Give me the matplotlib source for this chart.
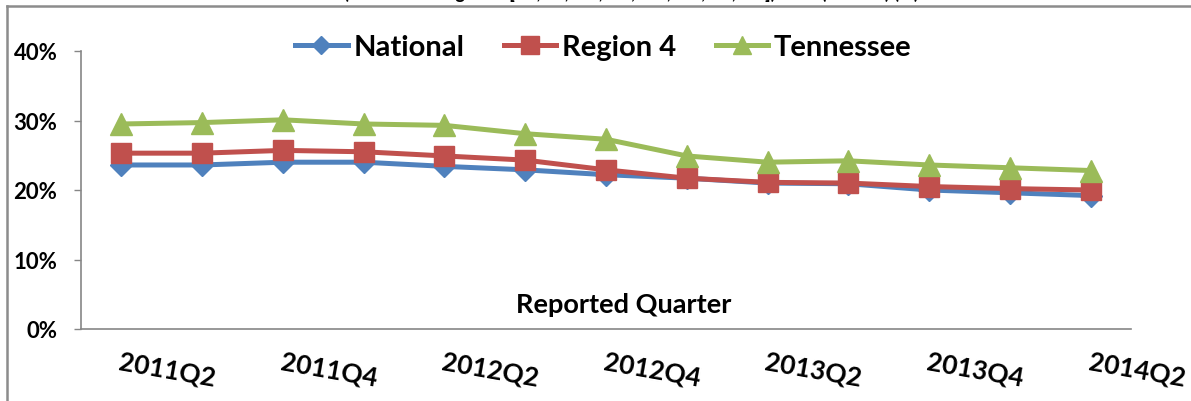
import numpy as np
import matplotlib
matplotlib.use("Agg")
import matplotlib.pyplot as plt
from matplotlib.lines import Line2D
from matplotlib.ticker import FuncFormatter

quarters = ["2011Q2", "2011Q3", "2011Q4", "2012Q1", "2012Q2", "2012Q3", "2012Q4",
            "2013Q1", "2013Q2", "2013Q3", "2013Q4", "2014Q1", "2014Q2"]
national = [23.6, 23.6, 24.0, 24.0, 23.4, 22.9, 22.2, 21.7, 21.0, 20.9, 20.0, 19.6, 19.2]
region4 = [25.3, 25.3, 25.7, 25.5, 24.9, 24.3, 22.9, 21.7, 21.1, 21.0, 20.5, 20.2, 20.0]
tennessee = [29.5, 29.7, 30.1, 29.5, 29.3, 28.1, 27.3, 24.9, 24.0, 24.2, 23.6, 23.2, 22.8]
y_ticks = [0, 10, 20, 30, 40]

W, H = 1191, 402
plt.rcParams["font.family"] = ["Lato", "DejaVu Sans"]
plt.rcParams["font.weight"] = "bold"

fig = plt.figure(figsize=(W / 100, H / 100), dpi=100)
ax = fig.add_axes([81 / W, 1 - 330 / H, (1131 - 81) / W, (330 - 52) / H])

x = np.arange(len(quarters))
blue, red, green = "#4F81BD", "#C0504D", "#9BBB59"
ax.plot(x, np.array(national) / 100, color=blue, lw=3.6, marker="D", ms=11,
        label="National", solid_joinstyle="round")
ax.plot(x, np.array(region4) / 100, color=red, lw=3.6, marker="s", ms=14.5,
        label="Region 4", solid_joinstyle="round")
ax.plot(x, np.array(tennessee) / 100, color=green, lw=3.6, marker="^", ms=16,
        label="Tennessee", solid_joinstyle="round")

ax.set_xlim(-0.5, len(quarters) - 0.5)
ax.set_ylim(0, 0.40)
ax.set_yticks(np.array(y_ticks) / 100)
ax.yaxis.set_major_formatter(FuncFormatter(lambda v, p: f"{v * 100:.0f}%"))
ax.tick_params(axis="y", direction="out", length=5, width=1, color="#868686",
               labelsize=16, pad=12)
ax.set_xticks(x[::2])
ax.set_xticklabels(quarters[::2], rotation=-10, ha="left", va="top",
                   rotation_mode="anchor", fontsize=19)
ax.tick_params(axis="x", length=0, pad=14)

for side in ["top", "right"]:
    ax.spines[side].set_visible(False)
for side in ["left", "bottom"]:
    ax.spines[side].set_color("#868686")
    ax.spines[side].set_linewidth(1.2)

fig.text(624 / W, 1 - 305 / H, "Reported Quarter", ha="center", va="center",
         fontsize=19.5, fontweight="bold")

fig.legend(loc="center left", bbox_to_anchor=(295 / W, 1 - 48 / H), ncol=3,
           frameon=False, fontsize=21, handlelength=1.8, handletextpad=0.2,
           columnspacing=1.35, borderpad=0, borderaxespad=0, markerscale=0.85)

# cut-off title at the top edge
fig.text(631 / W, 1 + 1 / H, "(Southeast Region 4 [AL, FL, GA, KY, MS, NC, SC, TN]) Rate (Overall) (%)",
         ha="center", va="baseline", fontsize=13, fontweight="bold")

# chart border (top and left)
fig.add_artist(Line2D([7 / W, 1], [1 - 7 / H, 1 - 7 / H], transform=fig.transFigure,
                      color="#8C8C8C", lw=1.8))
fig.add_artist(Line2D([7 / W, 7 / W], [0, 1 - 7 / H], transform=fig.transFigure,
                      color="#8C8C8C", lw=1.8))

fig.savefig("out.png", dpi=100)
